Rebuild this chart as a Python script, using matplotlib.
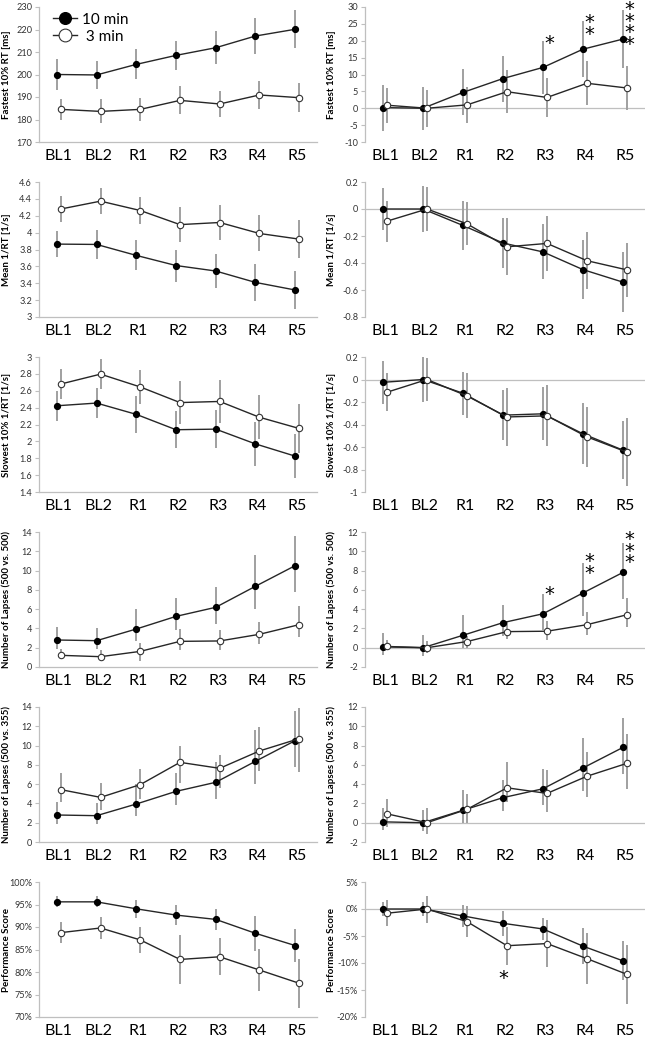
import numpy as np
import matplotlib.pyplot as plt
from matplotlib.ticker import FuncFormatter

plt.rcParams['font.family'] = ['Lato', 'DejaVu Sans']

sessions = ['BL1', 'BL2', 'R1', 'R2', 'R3', 'R4', 'R5']

# Fastest 10% RT [ms]
fast_10 = [200.0, 199.8, 204.5, 208.5, 211.9, 217.1, 220.1]
fast_10_err = [7.0, 6.3, 6.7, 6.5, 7.4, 8.2, 8.5]
fast_3 = [184.5, 183.6, 184.5, 188.5, 186.9, 190.9, 189.7]
fast_3_err = [4.8, 5.3, 5.2, 6.2, 5.8, 6.3, 6.5]
fast_d10 = [0.2, 0.0, 4.7, 8.8, 12.1, 17.5, 20.5]
fast_d10_err = [6.8, 6.4, 6.8, 6.8, 7.8, 8.3, 8.6]
fast_d3 = [0.9, 0.0, 1.0, 4.9, 3.2, 7.4, 6.0]
fast_d3_err = [5.2, 5.5, 5.3, 6.4, 5.8, 6.5, 6.5]

# Mean 1/RT [1/s]
mean_10 = [3.864, 3.86, 3.73, 3.61, 3.545, 3.41, 3.32]
mean_10_err = [0.155, 0.167, 0.177, 0.19, 0.205, 0.22, 0.22]
mean_3 = [4.28, 4.373, 4.262, 4.095, 4.12, 3.99, 3.923]
mean_3_err = [0.155, 0.155, 0.163, 0.207, 0.205, 0.213, 0.225]
mean_d10 = [0.0, 0.0, -0.122, -0.252, -0.318, -0.449, -0.542]
mean_d10_err = [0.155, 0.167, 0.178, 0.186, 0.204, 0.216, 0.22]
mean_d3 = [-0.09, 0.0, -0.11, -0.28, -0.255, -0.383, -0.451]
mean_d3_err = [0.152, 0.16, 0.16, 0.21, 0.206, 0.21, 0.2]

# Slowest 10% 1/RT [1/s]
slow_10 = [2.422, 2.454, 2.32, 2.138, 2.145, 1.97, 1.825]
slow_10_err = [0.18, 0.18, 0.217, 0.217, 0.228, 0.26, 0.26]
slow_3 = [2.68, 2.797, 2.645, 2.46, 2.473, 2.286, 2.153]
slow_3_err = [0.172, 0.18, 0.2, 0.25, 0.255, 0.263, 0.287]
slow_d10 = [-0.025, 0.0, -0.122, -0.317, -0.305, -0.483, -0.628]
slow_d10_err = [0.19, 0.2, 0.19, 0.22, 0.235, 0.27, 0.26]
slow_d3 = [-0.113, 0.0, -0.146, -0.333, -0.323, -0.51, -0.646]
slow_d3_err = [0.17, 0.19, 0.2, 0.26, 0.27, 0.27, 0.3]

# Number of lapses (500 vs. 500), asymmetric error bars
lap_10 = [2.8, 2.73, 3.94, 5.25, 6.19, 8.37, 10.51]
lap_10_lo = [0.97, 0.9, 1.24, 1.38, 1.7, 2.4, 2.77]
lap_10_hi = [1.39, 1.35, 2.11, 1.87, 2.07, 3.2, 3.1]
lap_3 = [1.21, 1.07, 1.62, 2.66, 2.7, 3.39, 4.39]
lap_3_lo = [0.35, 0.38, 1.0, 0.93, 0.97, 1.04, 1.29]
lap_3_hi = [0.69, 0.66, 0.9, 1.28, 1.17, 1.31, 1.91]
lap_d10 = [0.09, 0.0, 1.29, 2.6, 3.52, 5.68, 7.81]
lap_d10_lo = [0.89, 0.9, 1.29, 1.35, 1.7, 2.38, 2.74]
lap_d10_hi = [1.44, 1.3, 2.1, 1.85, 2.06, 3.12, 3.06]
lap_d3 = [0.13, 0.0, 0.64, 1.67, 1.71, 2.39, 3.42]
lap_d3_lo = [0.41, 0.52, 0.64, 0.75, 0.93, 1.06, 1.32]
lap_d3_hi = [0.71, 0.74, 0.55, 1.07, 1.06, 1.31, 1.78]

# Number of lapses (500 vs. 355)
lap355_3 = [5.43, 4.63, 5.95, 8.26, 7.64, 9.44, 10.72]
lap355_3_lo = [1.32, 1.28, 1.46, 2.14, 2.04, 2.11, 3.46]
lap355_3_hi = [1.73, 1.49, 1.65, 1.66, 1.42, 2.49, 3.14]
lap355_d3 = [0.92, 0.0, 1.39, 3.62, 3.04, 4.82, 6.16]
lap355_d3_lo = [1.35, 1.21, 1.44, 1.42, 1.92, 2.12, 2.64]
lap355_d3_hi = [1.57, 1.56, 1.61, 2.71, 2.47, 2.47, 3.02]

# Performance score [%]
perf_10 = [95.59, 95.59, 94.04, 92.65, 91.69, 88.6, 85.88]
perf_10_err = [1.2, 1.2, 2.0, 2.2, 2.4, 3.9, 3.6]
perf_3 = [88.75, 89.78, 87.13, 82.79, 83.38, 80.44, 77.5]
perf_3_err = [2.3, 2.4, 2.8, 5.4, 4.1, 4.6, 5.4]
perf_d10 = [0.0, 0.0, -1.28, -2.65, -3.7, -6.88, -9.6]
perf_d10_err = [1.3, 1.3, 2.1, 2.3, 2.1, 3.3, 3.6]
perf_d3 = [-0.78, 0.0, -2.34, -6.8, -6.4, -9.2, -12.1]
perf_d3_err = [2.4, 2.5, 2.9, 3.5, 4.3, 4.7, 5.5]

# significance stars: (session index, number of stars, y of top star)
stars_fast = [(4, 1, 21.2), (5, 2, 27.3), (6, 4, 31.2)]
stars_lap = [(4, 1, 6.2), (5, 2, 9.6), (6, 3, 11.9)]
stars_perf = [(3, 1, -11.6)]


def sym(e):
    return [e, e]


panels = [
    # (row, col, ylabel, s10, e10, s3, e3, ylim, step, pct, stars, star_dx)
    (0, 0, 'Fastest 10% RT [ms]', fast_10, sym(fast_10_err), fast_3, sym(fast_3_err), (170, 230), 10, False, None, 0),
    (0, 1, 'Fastest 10% RT [ms]', fast_d10, sym(fast_d10_err), fast_d3, sym(fast_d3_err), (-10, 30), 5, False, stars_fast, 0.17),
    (1, 0, 'Mean 1/RT [1/s]', mean_10, sym(mean_10_err), mean_3, sym(mean_3_err), (3, 4.6), 0.2, False, None, 0),
    (1, 1, 'Mean 1/RT [1/s]', mean_d10, sym(mean_d10_err), mean_d3, sym(mean_d3_err), (-0.8, 0.2), 0.2, False, None, 0),
    (2, 0, 'Slowest 10% 1/RT [1/s]', slow_10, sym(slow_10_err), slow_3, sym(slow_3_err), (1.4, 3), 0.2, False, None, 0),
    (2, 1, 'Slowest 10% 1/RT [1/s]', slow_d10, sym(slow_d10_err), slow_d3, sym(slow_d3_err), (-1, 0.2), 0.2, False, None, 0),
    (3, 0, 'Number of Lapses (500 vs. 500)', lap_10, [lap_10_lo, lap_10_hi], lap_3, [lap_3_lo, lap_3_hi], (0, 14), 2, False, None, 0),
    (3, 1, 'Number of Lapses (500 vs. 500)', lap_d10, [lap_d10_lo, lap_d10_hi], lap_d3, [lap_d3_lo, lap_d3_hi], (-2, 12), 2, False, stars_lap, 0.17),
    (4, 0, 'Number of Lapses (500 vs. 355)', lap_10, [lap_10_lo, lap_10_hi], lap355_3, [lap355_3_lo, lap355_3_hi], (0, 14), 2, False, None, 0),
    (4, 1, 'Number of Lapses (500 vs. 355)', lap_d10, [lap_d10_lo, lap_d10_hi], lap355_d3, [lap355_d3_lo, lap355_d3_hi], (-2, 12), 2, False, None, 0),
    (5, 0, 'Performance Score', perf_10, sym(perf_10_err), perf_3, sym(perf_3_err), (70, 100), 5, True, None, 0),
    (5, 1, 'Performance Score', perf_d10, sym(perf_d10_err), perf_d3, sym(perf_d3_err), (-20, 5), 5, True, stars_perf, 0.0),
]

W, H = 649, 1050
fig = plt.figure(figsize=(W / 100, H / 100), dpi=100)

col_left = [39, 365]
col_width = [278, 280]
row_h = 175

line_c = '#262626'
err_c = '#a0a0a0'
axis_c = '#bfbfbf'
x = np.arange(len(sessions))
off = 0.05


def tick_fmt(pct):
    def f(v, pos):
        if abs(v) < 1e-9:
            v = 0
        if pct:
            return f'{v:.0f}%'
        return f'{v:g}'
    return FuncFormatter(f)


for row, col, ylabel, s10, e10, s3, e3, ylim, step, pct, stars, sdx in panels:
    top = row * row_h + 7
    ax = fig.add_axes([col_left[col] / W, 1 - (top + 135) / H, col_width[col] / W, 135 / H])

    ax.errorbar(x - off, s10, yerr=e10, fmt='none', ecolor=err_c, elinewidth=1.4, capsize=0, zorder=1)
    ax.errorbar(x + off, s3, yerr=e3, fmt='none', ecolor=err_c, elinewidth=1.4, capsize=0, zorder=1)
    ax.plot(x - off, s10, '-o', color=line_c, lw=1.0, ms=4.2, mfc='black', mec='black', zorder=3, label='10 min')
    ax.plot(x + off, s3, '-o', color=line_c, lw=1.0, ms=4.6, mfc='white', mec='#333333', mew=0.8, zorder=3, label=' 3 min')

    ax.set_xlim(-0.5, len(sessions) - 0.5)
    ax.set_ylim(*ylim)
    ax.set_yticks(np.arange(ylim[0], ylim[1] + step / 2, step))
    ax.yaxis.set_major_formatter(tick_fmt(pct))
    ax.set_xticks(x)
    ax.set_xticklabels(sessions, fontsize=11.5, color='black')
    ax.tick_params(axis='x', length=0, pad=5)
    ax.tick_params(axis='y', length=3, width=0.8, color=axis_c, labelsize=6.6, pad=2, labelcolor='#333333')

    for s in ['top', 'right']:
        ax.spines[s].set_visible(False)
    ax.spines['left'].set_color(axis_c)
    ax.spines['left'].set_linewidth(0.9)
    if ylim[0] < 0:
        ax.spines['bottom'].set_visible(False)
        ax.axhline(0, color=axis_c, lw=0.9, zorder=0)
    else:
        ax.spines['bottom'].set_color(axis_c)
        ax.spines['bottom'].set_linewidth(0.9)

    ax.set_ylabel(ylabel, fontsize=7, fontweight='bold')
    ax.yaxis.set_label_coords(-0.1 if col == 0 else -0.105, 0.5)

    if stars:
        for idx, n, ytop in stars:
            ax.annotate('\n'.join(['*'] * n), xy=(x[idx] - off + sdx, ytop), xytext=(0, 2),
                        textcoords='offset points', ha='center', va='top',
                        fontsize=14, linespacing=0.5, family='DejaVu Sans',
                        color='black', annotation_clip=False)

    if row == 0 and col == 0:
        ax.legend(loc='upper left', bbox_to_anchor=(0.0, 1.06), frameon=False, fontsize=11,
                  markerscale=2.0, handlelength=1.6, handletextpad=0.3, labelspacing=0.2)

fig.savefig('out.png', dpi=100)
